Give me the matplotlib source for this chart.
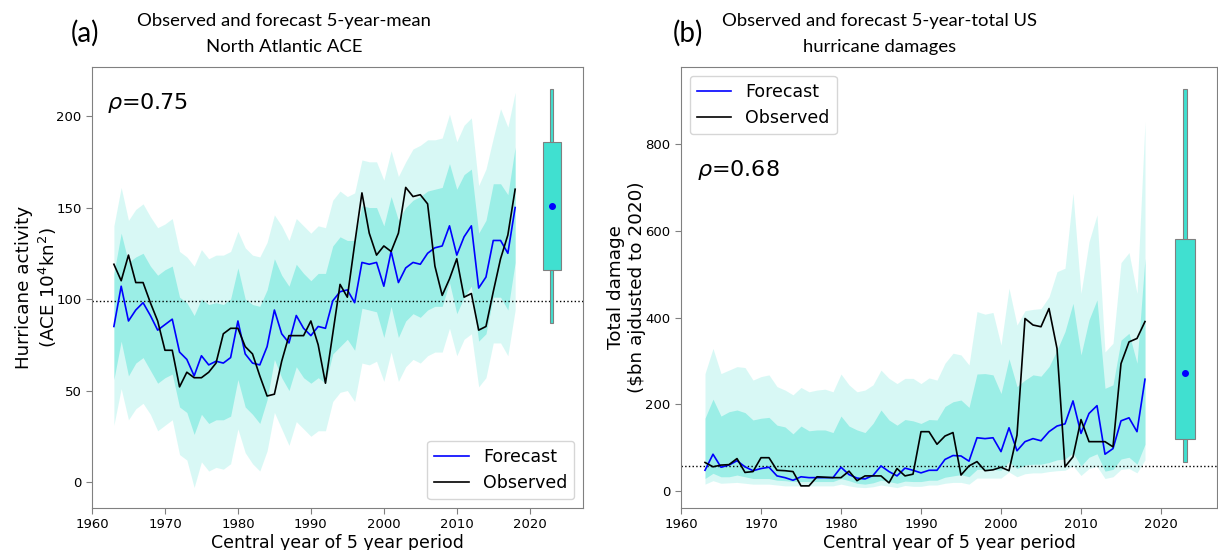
import matplotlib
matplotlib.use("Agg")
import matplotlib.pyplot as plt

# ---------------- data ----------------
years = list(range(1963, 2019))

# Panel (a): North Atlantic ACE
ace_forecast = [85, 107, 88, 94, 98, 91, 83, 86, 89, 71, 67, 58, 69, 64, 66, 65, 68, 88,
                70, 65, 64, 74, 94, 81, 76, 91, 84, 80, 85, 84, 99, 104, 105, 98, 120, 119,
                120, 107, 126, 109, 117, 120, 119, 125, 128, 129, 140, 124, 134, 140, 106,
                112, 132, 132, 125, 150]
ace_observed = [119, 110, 124, 109, 109, 98, 88, 72, 72, 52, 60, 57, 57, 60, 65, 81, 84, 84,
                74, 70, 58, 47, 48, 66, 80, 80, 80, 88, 75, 54, 81, 108, 101, 130, 158, 136,
                124, 129, 126, 136, 161, 156, 157, 152, 118, 102, 111, 122, 101, 103, 83, 85,
                104, 122, 135, 160]
ace_outer_hi = [140, 161, 143, 149, 152, 145, 139, 141, 144, 126, 123, 118, 127, 122, 124, 124,
                126, 137, 128, 124, 123, 131, 146, 140, 132, 144, 140, 136, 140, 139, 154, 159,
                156, 158, 176, 175, 175, 165, 181, 167, 175, 182, 184, 187, 187, 188, 201, 186,
                195, 199, 162, 171, 188, 204, 194, 213]
ace_inner_hi = [114, 136, 120, 123, 125, 118, 113, 116, 118, 101, 98, 91, 100, 97, 98, 97, 100,
                117, 100, 97, 96, 105, 122, 113, 107, 119, 114, 110, 114, 114, 129, 134, 132,
                132, 151, 150, 150, 140, 156, 143, 150, 154, 156, 159, 160, 161, 174, 160, 168,
                171, 136, 143, 163, 163, 157, 183]
ace_inner_lo = [56, 77, 58, 65, 68, 61, 54, 57, 59, 41, 38, 26, 37, 32, 34, 34, 36, 56, 41, 37,
                32, 45, 67, 57, 50, 63, 57, 54, 57, 54, 70, 74, 78, 72, 95, 94, 93, 79, 96, 79,
                88, 92, 90, 94, 96, 96, 109, 92, 101, 107, 77, 81, 101, 101, 94, 120]
ace_outer_lo = [31, 51, 34, 40, 43, 37, 28, 31, 34, 15, 12, -3, 11, 6, 8, 7, 10, 29, 16, 10, 6,
                17, 38, 29, 20, 33, 29, 25, 28, 28, 44, 49, 50, 44, 65, 64, 66, 55, 71, 55, 63,
                67, 65, 69, 71, 71, 84, 69, 78, 81, 52, 57, 76, 76, 69, 94]
ace_clim = 99
ace_box = {"low": 87, "q1": 116, "mid": 151, "q3": 186, "high": 215}

# Panel (b): US hurricane damages
dmg_forecast = [48, 85, 55, 60, 70, 56, 47, 52, 55, 35, 31, 25, 33, 31, 31, 31, 31, 55, 38, 30,
                28, 36, 58, 45, 35, 53, 48, 42, 48, 48, 73, 82, 81, 69, 123, 121, 123, 91, 146,
                93, 114, 121, 116, 137, 150, 155, 208, 133, 179, 197, 85, 98, 162, 169, 137, 258]
dmg_observed = [66, 56, 60, 61, 75, 43, 45, 77, 77, 48, 47, 45, 12, 12, 33, 32, 31, 31, 46, 24,
                35, 35, 35, 19, 52, 35, 39, 137, 137, 108, 127, 135, 37, 58, 68, 47, 49, 55, 47,
                129, 398, 383, 379, 421, 329, 56, 79, 165, 114, 114, 114, 102, 294, 344, 352, 391]
dmg_outer_hi = [271, 329, 271, 279, 287, 285, 256, 264, 268, 241, 233, 222, 239, 229, 233, 235,
                229, 270, 245, 229, 233, 245, 279, 260, 248, 260, 260, 248, 261, 256, 295, 318,
                314, 291, 414, 408, 412, 337, 468, 383, 416, 419, 421, 448, 506, 514, 687, 456,
                575, 637, 321, 341, 527, 550, 456, 852]
dmg_inner_hi = [168, 212, 173, 183, 187, 181, 164, 168, 170, 152, 148, 132, 150, 139, 141, 141,
                135, 173, 150, 141, 135, 156, 187, 164, 152, 165, 162, 156, 165, 164, 195, 206,
                210, 193, 270, 271, 268, 225, 305, 241, 256, 268, 265, 287, 325, 368, 433, 314,
                395, 441, 237, 245, 348, 364, 295, 537]
dmg_inner_lo = [29, 41, 33, 33, 37, 33, 29, 29, 29, 25, 24, 22, 22, 22, 22, 22, 22, 29, 24, 18,
                16, 19, 25, 22, 18, 23, 22, 22, 25, 25, 32, 35, 38, 33, 50, 50, 50, 48, 68, 52,
                60, 62, 62, 66, 72, 74, 88, 58, 78, 86, 46, 50, 74, 78, 62, 108]
dmg_outer_lo = [16, 24, 18, 19, 20, 18, 16, 16, 16, 14, 12, 12, 12, 12, 12, 12, 12, 16, 12, 9,
                8, 10, 14, 11, 8, 13, 11, 11, 14, 14, 18, 20, 20, 16, 30, 30, 30, 30, 44, 33,
                40, 42, 42, 45, 47, 48, 58, 36, 52, 57, 29, 33, 50, 52, 42, 72]
dmg_clim = 58
dmg_box = {"low": 67, "q1": 120, "mid": 272, "q3": 581, "high": 927}

box_year = 2023
xticks = [1960, 1970, 1980, 1990, 2000, 2010, 2020]
ace_yticks = [0, 50, 100, 150, 200]
dmg_yticks = [0, 200, 400, 600, 800]

# ---------------- figure ----------------
W, H = 1218, 550
fig = plt.figure(figsize=(W / 100, H / 100), dpi=100)
axa = fig.add_axes([92 / W, 42 / H, 491 / W, 441 / H])
axb = fig.add_axes([681 / W, 42 / H, 536 / W, 441 / H])

TURQ = "turquoise"


def draw_panel(ax, fc, ob, ohi, ihi, ilo, olo, clim, box, rho, yticks, ylim, xlim,
               legloc, wbox, wwhisk, rho_xy):
    ax.fill_between(years, olo, ohi, color=TURQ, alpha=0.2, lw=0, zorder=1)
    ax.fill_between(years, ilo, ihi, color=TURQ, alpha=0.4, lw=0, zorder=1.1)
    ax.axhline(clim, color="black", ls=":", lw=1.0, zorder=2)
    ax.plot(years, fc, color="blue", lw=1.2, label="Forecast", zorder=3)
    ax.plot(years, ob, color="black", lw=1.2, label="Observed", zorder=3)
    # box for the forecast period
    ax.bar([box_year], [box["high"] - box["low"]], bottom=[box["low"]], width=wwhisk,
           color=TURQ, edgecolor="grey", lw=0.8, zorder=3)
    ax.bar([box_year], [box["q3"] - box["q1"]], bottom=[box["q1"]], width=wbox,
           color=TURQ, edgecolor="grey", lw=0.8, zorder=4)
    ax.plot([box_year], [box["mid"]], "o", color="blue", ms=4, zorder=5)
    ax.set_xlim(*xlim)
    ax.set_ylim(*ylim)
    ax.set_xticks(xticks)
    ax.set_yticks(yticks)
    ax.tick_params(labelsize=9.5, color="grey", length=4)
    for s in ax.spines.values():
        s.set_color("grey")
    ax.set_xlabel("Central year of 5 year period", fontsize=12.5, labelpad=2)
    ax.text(rho_xy[0], rho_xy[1], r"$\rho$=" + rho, transform=ax.transAxes,
            fontsize=16, ha="left", va="center")
    ax.legend(loc=legloc, fontsize=12.5)


draw_panel(axa, ace_forecast, ace_observed, ace_outer_hi, ace_inner_hi, ace_inner_lo,
           ace_outer_lo, ace_clim, ace_box, "0.75", ace_yticks, (-14.2, 226.8),
           (1960, 2027.3), "lower right", 2.5, 0.45, (0.03, 0.918))
draw_panel(axb, dmg_forecast, dmg_observed, dmg_outer_hi, dmg_inner_hi, dmg_inner_lo,
           dmg_outer_lo, dmg_clim, dmg_box, "0.68", dmg_yticks, (-39, 978),
           (1960, 2027), "upper left", 2.4, 0.5, (0.029, 0.766))

axa.set_ylabel("Hurricane activity\n(ACE 10$^4$kn$^2$)", fontsize=13.2)
axb.set_ylabel("Total damage\n(\\$bn ajdusted to 2020)", fontsize=13.2)
axa.yaxis.set_label_coords(-0.068, 0.5)
axb.yaxis.set_label_coords(-0.066, 0.5)

# titles
TF = ["Lato", "DejaVu Sans"]
fig.text(284 / W, 1 - 21 / H, "Observed and forecast 5-year-mean", fontsize=13.3,
         family=TF, ha="center", va="center")
fig.text(284 / W, 1 - 47 / H, "North Atlantic ACE", fontsize=13.3, family=TF,
         ha="center", va="center")
fig.text(85 / W, 1 - 33 / H, "(a)", fontsize=20, family=TF, ha="center", va="center")
fig.text(880 / W, 1 - 21 / H, "Observed and forecast 5-year-total US", fontsize=13.3,
         family=TF, ha="center", va="center")
fig.text(880 / W, 1 - 47 / H, "hurricane damages", fontsize=13.3, family=TF,
         ha="center", va="center")
fig.text(688 / W, 1 - 33 / H, "(b)", fontsize=20, family=TF, ha="center", va="center")

fig.savefig("out.png", dpi=100)
